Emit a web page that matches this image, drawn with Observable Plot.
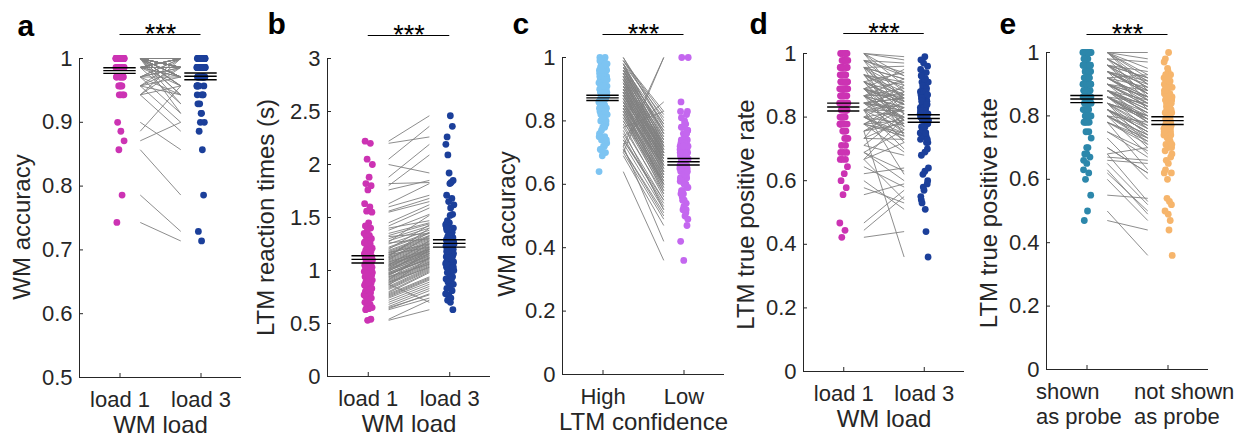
<!DOCTYPE html>
<html>
<head>
<meta charset="utf-8">
<script src="https://cdn.jsdelivr.net/npm/d3@7"></script>
<script src="https://cdn.jsdelivr.net/npm/@observablehq/plot@0.6"></script>
<style>
html,body{margin:0;padding:0;background:#fff;}
body{width:1245px;height:437px;overflow:hidden;position:relative;font-family:"Liberation Sans",Arial,sans-serif;}
.panel{position:absolute;top:0;}
.panel svg{overflow:visible;}
</style>
</head>
<body>
<div id="root"></div>
<script>
// ---------- data ----------
// a: WM accuracy, load 1 vs load 3 (paired by subject)
const aLoad1 = [
  0.743,0.786,0.857,0.871,0.886,0.900,0.943,0.957,0.971,0.986,
  1,1,1,1,1,1,0.986,0.986,0.986,0.971,
  0.971,0.971,0.957,0.957,0.943,0.943,1,1,1,1,
  0.986,1,1,0.971,0.986,1,1,1,0.957,1,
  1,0.986,1,0.971,1,0.986,1,1,1,0.943,
  1,0.986,1,0.971,1,1,0.986,1,1,0.957,
  1,1,1,1,1,1,1,1,1,1,
  1,1,1,1,1,1,1,1,1,1,
  1,1,1,1,1,1,1,1,1,1,
  0.986,0.986,0.986,1
];
const aLoad3 = [
  0.714,0.729,0.786,0.900,0.957,0.857,0.886,0.900,0.914,0.929,
  0.943,0.971,0.986,1,1,0.957,1,0.986,0.971,1,
  0.986,0.943,1,0.971,0.986,0.957,1,0.986,0.971,1,
  0.957,0.943,0.929,1,1,1,0.986,1,0.943,0.971,
  1,0.986,1,0.971,1,1,0.986,1,0.957,1,
  1,0.971,1,0.986,1,0.914,1,1,0.986,0.986,
  1,1,1,1,1,1,1,1,1,1,
  1,1,1,1,1,1,0.986,0.986,0.986,0.986,
  0.986,0.986,0.986,0.986,0.986,0.986,0.986,0.971,0.971,0.971,
  1,1,1,0.957
];
// b: LTM reaction times (s), load 1 vs load 3
const bLoad1 = [
  2.22,2.20,2.05,2.00,1.88,1.82,1.80,1.76,1.63,1.60,
  1.56,1.55,1.45,1.42,1.40,1.38,1.35,1.33,1.32,1.30,
  1.28,1.27,1.25,1.22,1.21,1.20,1.19,1.18,1.17,1.16,
  1.15,1.14,1.13,1.12,1.12,1.11,1.10,1.10,1.09,1.08,
  1.07,1.06,1.05,1.05,1.04,1.03,1.02,1.01,1.00,1.00,
  0.99,0.98,0.97,0.96,0.95,0.94,0.93,0.92,0.91,0.90,
  0.89,0.88,0.87,0.86,0.85,0.84,0.83,0.82,0.80,0.79,
  0.78,0.77,0.76,0.75,0.74,0.72,0.70,0.68,0.66,0.65,
  0.64,0.63,0.54,0.53,1.26,1.13,1.02,0.96,0.91,0.87,
  1.08,1.17,0.98,0.94,1.04,1.01,0.89,1.15,1.06,0.97
];
const bLoad3 = [
  2.46,2.26,2.36,1.92,2.19,1.83,2.09,1.85,1.82,1.71,
  1.68,1.65,1.62,1.59,1.47,1.53,1.45,1.44,1.35,1.42,
  1.40,1.52,1.38,1.36,1.35,1.43,1.33,1.32,1.31,1.30,
  1.29,1.36,1.28,1.27,1.26,1.25,1.24,1.33,1.23,1.22,
  1.21,1.20,1.19,1.28,1.18,1.17,1.25,1.16,1.15,1.14,
  1.22,1.13,1.12,1.11,1.16,1.10,1.09,1.08,1.20,1.07,
  1.06,1.05,1.04,1.12,1.03,1.02,1.01,1.00,0.99,0.98,
  0.94,0.93,0.92,0.91,0.89,0.87,0.85,0.83,0.81,0.77,
  0.78,0.74,0.72,0.63,1.30,1.40,1.16,1.12,1.08,0.70,
  1.20,1.25,1.14,1.06,1.20,1.18,1.03,1.22,1.18,1.11
];
// c: WM accuracy, high vs low LTM confidence
const cHigh = [
  1.00,1.00,0.99,0.98,0.98,0.97,0.97,0.96,0.96,0.95,
  0.95,0.94,0.94,0.93,0.93,0.92,0.92,0.91,0.91,0.90,
  0.90,0.90,0.89,0.89,0.88,0.88,0.87,0.87,0.86,0.86,
  0.85,0.85,0.84,0.84,0.83,0.83,0.82,0.82,0.81,0.80,
  0.79,0.78,0.76,0.75,0.74,0.73,0.72,0.71,0.70,0.69,
  0.64,0.99,0.97,0.96,0.95,0.94,0.93,0.92,0.91,0.90,
  0.89,0.88,0.87,0.86,0.85,0.98,0.96,0.94,0.92,0.90,
  0.88,0.86,0.84,0.82,0.80,0.97,0.95,0.93,0.91,0.89,
  0.87,0.85,0.83,0.81,0.75,0.72,0.71,0.74,0.70,0.99,
  0.98,0.96,0.93,0.91,0.89,0.88,0.86,0.84,0.78,0.77
];
const cLow = [
  0.80,0.78,0.82,0.76,0.72,0.75,0.70,0.74,0.71,0.73,
  0.69,0.72,0.68,0.70,0.67,0.71,0.66,0.69,0.65,0.68,
  0.70,0.64,0.67,0.63,0.69,0.66,0.62,0.68,0.65,0.61,
  0.64,0.60,0.66,0.59,0.63,0.58,0.62,0.57,0.61,0.60,
  0.56,0.83,0.55,0.86,0.54,0.52,1.00,0.50,1.00,0.47,
  0.36,0.83,0.79,0.78,0.77,0.75,0.74,0.73,0.72,0.71,
  0.70,0.69,0.68,0.67,0.66,0.76,0.74,0.72,0.70,0.68,
  0.66,0.64,0.62,0.60,0.58,0.77,0.73,0.71,0.69,0.67,
  0.65,0.63,0.61,0.59,0.53,0.42,0.51,0.55,0.49,0.79,
  0.81,0.76,0.72,0.70,0.68,0.66,0.64,0.60,0.57,0.52
];
// d: LTM true positive rate, load 1 vs load 3
const dLoad1 = [
  1.000,1.000,1.000,0.978,0.978,0.956,0.956,0.956,0.933,0.933,
  0.933,0.911,0.911,0.911,0.889,0.889,0.889,0.889,0.867,0.867,
  0.867,0.867,0.844,0.844,0.844,0.844,0.822,0.822,0.822,0.800,
  0.800,0.800,0.778,0.778,0.778,0.756,0.756,0.733,0.733,0.711,
  0.689,0.689,0.667,0.667,0.667,0.644,0.622,0.600,0.578,0.556,
  0.467,0.444,0.422,1.000,0.978,0.956,0.933,0.911,0.889,0.867,
  0.844,0.822,0.800,0.778,0.756,0.978,0.956,0.933,0.911,0.889,
  0.867,0.844,0.822,0.800,0.889,0.867,0.844,0.711,0.956,0.911,
  0.889,0.867,0.844,0.800,0.778,1.000,0.933,0.822,0.756,0.689,
  0.911,0.867,0.844,0.822,0.778,0.733,0.933,0.956,0.978,0.889
];
const dLoad3 = [
  0.99,0.93,0.85,0.97,0.88,0.92,0.74,0.96,0.90,0.81,
  0.86,0.94,0.79,0.87,0.91,0.84,0.76,0.95,0.83,0.89,
  0.72,0.92,0.86,0.80,0.88,0.75,0.90,0.84,0.70,0.82,
  0.87,0.74,0.85,0.79,0.69,0.83,0.78,0.88,0.73,0.81,
  0.76,0.60,0.80,0.54,0.72,0.58,0.64,0.51,0.53,0.59,
  0.57,0.55,0.44,0.90,0.81,0.86,0.77,0.85,0.79,0.83,
  0.82,0.76,0.78,0.74,0.80,0.94,0.84,0.91,0.77,0.86,
  0.87,0.82,0.80,0.75,0.85,0.78,0.83,0.68,0.89,0.84,
  0.81,0.79,0.86,0.73,0.83,0.98,0.88,0.62,0.36,0.63,
  0.85,0.80,0.77,0.82,0.75,0.79,0.87,0.92,0.93,0.84
];
// e: LTM true positive rate, shown vs not shown as probe
const eShown = [
  1.00,1.00,1.00,1.00,0.98,0.98,0.96,0.96,0.96,0.94,
  0.94,0.94,0.92,0.92,0.92,0.90,0.90,0.90,0.88,0.88,
  0.88,0.88,0.86,0.86,0.86,0.84,0.84,0.84,0.82,0.82,
  0.82,0.80,0.80,0.80,0.78,0.78,0.75,0.73,0.70,0.68,
  0.67,0.65,0.63,0.62,0.60,0.55,0.50,0.47,1.00,0.98,
  0.96,0.94,0.92,0.90,0.88,0.86,0.84,0.82,0.80,1.00,
  0.98,0.94,0.90,0.86,0.82,0.78,0.96,0.92,0.88,0.84,
  0.80,1.00,0.94,0.88,0.86,0.68,0.66,0.75,0.92,0.90,
  0.84,0.82,0.96,0.88,0.86,0.80,0.94,0.90,0.78,0.98,
  0.92,0.86,0.84,0.82,0.88,0.90,0.70,0.96,0.94,0.86
];
const eNotShown = [
  1.00,0.98,0.93,0.88,0.97,0.90,0.92,0.85,0.94,0.87,
  0.91,0.82,0.89,0.84,0.93,0.86,0.80,0.88,0.83,0.78,
  0.85,0.79,0.81,0.76,0.84,0.74,0.80,0.71,0.77,0.70,
  0.75,0.72,0.78,0.68,0.73,0.63,0.67,0.60,0.62,0.53,
  0.66,0.52,0.49,0.50,0.47,0.54,0.36,0.44,0.90,0.86,
  0.89,0.87,0.85,0.83,0.81,0.79,0.77,0.75,0.73,0.92,
  0.91,0.88,0.84,0.80,0.76,0.72,0.87,0.86,0.82,0.79,
  0.74,0.95,0.90,0.81,0.78,0.70,0.65,0.69,0.86,0.83,
  0.76,0.73,0.89,0.82,0.79,0.74,0.87,0.84,0.71,0.91,
  0.85,0.78,0.80,0.75,0.83,0.86,0.62,0.92,0.88,0.79
];

const ticksAcc = [0.5, 0.6, 0.7, 0.8, 0.9, 1];
const ticksRT = [0, 0.5, 1, 1.5, 2, 2.5, 3];
const ticksUnit = [0, 0.2, 0.4, 0.6, 0.8, 1];
const catsLoad = ["load 1", "load 3"];
const catsConf = ["High", "Low"];
const catsProbe = ["shown\nas probe", "not shown\nas probe"];

// ---------- layout / style ----------
const AXIS = "#262626";
const panels = [
  {letter:"a", v:[aLoad1,aLoad3], cats:catsLoad, colors:["#cc33b3","#1b3f9a"], domain:[0.5,1], ticks:ticksAcc,
   yLabel:"WM accuracy", xLabel:"WM load",
   left:0, width:250, axL:79, axR:241, top:58, bottom:377, ylDx:-57, ylDy:9, letterX:17, letterBase:35, barY:34},
  {letter:"b", v:[bLoad1,bLoad3], cats:catsLoad, colors:["#cc33b3","#1b3f9a"], domain:[0,3], ticks:ticksRT,
   yLabel:"LTM reaction times (s)", xLabel:"WM load",
   left:250, width:250, axL:327, axR:490, top:58, bottom:376, ylDx:-61, ylDy:0, letterX:267, letterBase:33, barY:35},
  {letter:"c", v:[cHigh,cLow], cats:catsConf, colors:["#7dc4f2","#c467ef"], domain:[0,1], ticks:ticksUnit,
   yLabel:"WM accuracy", xLabel:"LTM confidence",
   left:500, width:225, axL:562, axR:724, top:57, bottom:374, ylDx:-55, ylDy:8, letterX:512, letterBase:33, barY:34},
  {letter:"d", v:[dLoad1,dLoad3], cats:catsLoad, colors:["#cc33b3","#1b3f9a"], domain:[0,1], ticks:ticksUnit,
   yLabel:"LTM true positive rate", xLabel:"WM load",
   left:725, width:250, axL:803, axR:964, top:53, bottom:371, ylDx:-57, ylDy:2, letterX:749, letterBase:33, barY:33},
  {letter:"e", v:[eShown,eNotShown], cats:catsProbe, colors:["#2c87ab","#f6b56c"], domain:[0,1], ticks:ticksUnit,
   yLabel:"LTM true positive rate", xLabel:null, catAnchor:"start", catDx:[-51,-34],
   left:975, width:270, axL:1046, axR:1208, top:52, bottom:369, ylDx:-57, ylDy:2, letterX:999, letterBase:33, barY:34}
];

// deterministic horizontal jitter (layout only)
const jit = (i, off) => ((((i * 0.6180339887 + off) % 1) + 1) % 1 - 0.5) * 2 * 0.052;

function makePanel(p) {
  const [v1, v2] = p.v;
  const pts1 = v1.map((y, i) => ({x: 1 + jit(i, 0.13), y}));
  const pts2 = v2.map((y, i) => ({x: 2 + jit(i, 0.57), y}));
  const pairs = v1.map((y1, i) => ({y1, y2: v2[i]}));
  const stats = [v1, v2].flatMap((v, g) => {
    const m = d3.mean(v), s = d3.deviation(v) / Math.sqrt(v.length);
    return [m - s, m, m + s].map(y => ({y, x1: g + 1 - 0.2, x2: g + 1 + 0.2}));
  });
  const H = 437;
  const yMin = p.domain[0], yMax = p.domain[1];
  const catMarks = p.cats.map((c, k) => Plot.text([c], {
    text: d => d, x: () => k + 1, frameAnchor: "bottom",
    textAnchor: p.catAnchor || "middle", dx: p.catDx ? p.catDx[k] : 0,
    dy: 12, lineAnchor: "top", fontSize: 22, lineHeight: 1.14, fill: AXIS
  }));
  const marks = [
    Plot.link(pairs, {x1: () => 1.25, x2: () => 1.75, y1: "y1", y2: "y2", stroke: "#808080", strokeWidth: 0.9}),
    Plot.dot(pts1, {x: "x", y: "y", r: 3.4, fill: p.colors[0], stroke: null}),
    Plot.dot(pts2, {x: "x", y: "y", r: 3.4, fill: p.colors[1], stroke: null}),
    Plot.ruleY(stats, {y: "y", x1: "x1", x2: "x2", stroke: "black", strokeWidth: 1.4}),
    Plot.ruleX([0.5], {stroke: AXIS, strokeWidth: 1}),
    Plot.ruleY([yMin], {stroke: AXIS, strokeWidth: 1}),
    Plot.axisY({ticks: p.ticks, tickFormat: d => String(d), tickSize: -4, tickPadding: 11, fontSize: 22, label: null, color: AXIS}),
    Plot.axisX({ticks: [1, 2], tickFormat: () => "", tickSize: -4, label: null, color: AXIS}),
    ...catMarks,
    Plot.text([p.yLabel], {text: d => d, frameAnchor: "left", rotate: -90, dx: p.ylDx, dy: p.ylDy, fontSize: 24,
      textAnchor: "middle", lineAnchor: "middle", fill: AXIS}),
    Plot.ruleY([yMax], {x1: () => 1, x2: () => 2, dy: p.barY - p.top, stroke: "black", strokeWidth: 1.1}),
    Plot.text(["***"], {text: d => d, x: () => 1.5, y: () => yMax, dy: p.barY - p.top, textAnchor: "middle", lineAnchor: "middle", fontSize: 27, fill: "black"}),
    Plot.text([p.letter], {text: d => d, frameAnchor: "top-left", dx: p.letterX - p.axL, dy: p.letterBase - 21.3 - p.top,
      textAnchor: "start", lineAnchor: "top", fontSize: 30, fontWeight: "bold", fill: "black"})
  ];
  if (p.xLabel) marks.push(Plot.text([p.xLabel], {text: d => d, frameAnchor: "bottom", dy: 38, textAnchor: "middle", lineAnchor: "top", fontSize: 24, fill: AXIS}));
  return Plot.plot({
    width: p.width, height: H,
    marginLeft: p.axL - p.left, marginRight: p.left + p.width - p.axR,
    marginTop: p.top, marginBottom: H - p.bottom,
    x: {domain: [0.5, 2.5]},
    y: {domain: p.domain},
    style: {fontFamily: '"Liberation Sans", Arial, sans-serif', background: "transparent", overflow: "visible", color: AXIS},
    marks
  });
}

const root = document.getElementById("root");
for (const p of panels) {
  const div = document.createElement("div");
  div.className = "panel";
  div.style.left = p.left + "px";
  div.style.width = p.width + "px";
  div.appendChild(makePanel(p));
  root.appendChild(div);
}
</script>
</body>
</html>
